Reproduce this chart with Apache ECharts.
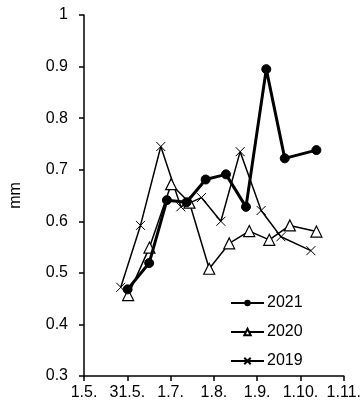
<!DOCTYPE html>
<html>
<head>
<meta charset="utf-8">
<script src="https://cdn.jsdelivr.net/npm/echarts@6/dist/echarts.min.js"></script>
<style>html,body{margin:0;padding:0;background:#fff;}#c{width:364px;height:403px;}</style>
</head>
<body>
<div id="c"></div>
<script>
// x = days after 1 May (axis ticks every 30.5 days)
var tickLabels = ['1.5.', '31.5.', '1.7.', '1.8.', '1.9.', '1.10.', '1.11.'];
var x2021 = [30.7, 45.9, 58.4, 72.3, 85.7, 100.0, 114.1, 128.4, 141.4, 163.7];
var y2021 = [0.468, 0.519, 0.641, 0.637, 0.681, 0.691, 0.628, 0.895, 0.722, 0.738];
var x2020 = [31.1, 46.1, 61.4, 74.3, 88.2, 102.3, 116.4, 130.5, 145.0, 163.7];
var y2020 = [0.457, 0.549, 0.672, 0.636, 0.508, 0.557, 0.581, 0.564, 0.592, 0.580];
var x2019 = [25.9, 39.8, 54.1, 68.2, 82.7, 96.4, 110.0, 124.8, 138.7, 159.8];
var y2019 = [0.472, 0.592, 0.745, 0.628, 0.646, 0.600, 0.735, 0.621, 0.570, 0.543];

function pairs(xs, ys) { return xs.map(function (v, i) { return [v, ys[i]]; }); }

var font = 'Liberation Sans, Arial, sans-serif';
var chart = echarts.init(document.getElementById('c'), null, {renderer: 'canvas'});
chart.setOption({
  animation: false,
  backgroundColor: '#fff',
  grid: {left: 77, right: 19, top: 15, bottom: 27},
  legend: {
    orient: 'vertical', left: 225, top: 290, itemWidth: 33, itemHeight: 8, itemGap: 13,
    textStyle: {color: '#000', fontSize: 16, lineHeight: 16, fontFamily: font, padding: [0, 0, 0, -2]},
    data: ['2021', '2020', '2019']
  },
  xAxis: {
    type: 'value', min: 0, max: 183, interval: 30.5,
    axisLine: {lineStyle: {color: '#000', width: 1.5}},
    axisTick: {show: true, length: 5, lineStyle: {color: '#000', width: 1.5}},
    splitLine: {show: false},
    axisLabel: {
      color: '#000', fontSize: 16, fontFamily: font, margin: 9,
      formatter: function (v) { return tickLabels[Math.round(v / 30.5)]; }
    }
  },
  yAxis: {
    type: 'value', min: 0.3, max: 1, interval: 0.1,
    name: 'mm', nameLocation: 'middle', nameGap: 60, nameRotate: 90,
    nameTextStyle: {color: '#000', fontSize: 16, fontFamily: font},
    axisLine: {show: true, lineStyle: {color: '#000', width: 1.5}},
    axisTick: {show: true, length: 5, lineStyle: {color: '#000', width: 1.5}},
    splitLine: {show: false},
    axisLabel: {color: '#000', fontSize: 16, fontFamily: font, margin: 16,
      formatter: function (v) { return String(Math.round(v * 10) / 10); }}
  },
  series: [
    {
      name: '2021', type: 'line', z: 4, data: pairs(x2021, y2021),
      symbol: 'circle', symbolSize: 9,
      lineStyle: {color: '#000', width: 3},
      itemStyle: {color: '#000', borderColor: '#000'}
    },
    {
      name: '2020', type: 'line', z: 3, data: pairs(x2020, y2020),
      symbol: 'triangle', symbolSize: 11,
      lineStyle: {color: '#000', width: 1.5},
      itemStyle: {color: '#fff', borderColor: '#000', borderWidth: 1.2}
    },
    {
      name: '2019', type: 'line', z: 2, data: pairs(x2019, y2019),
      symbol: 'path://M0,0L10,10M10,0L0,10', symbolSize: 9,
      lineStyle: {color: '#000', width: 1.5},
      itemStyle: {color: '#000', borderColor: '#000', borderWidth: 1}
    }
  ]
});
</script>
</body>
</html>
